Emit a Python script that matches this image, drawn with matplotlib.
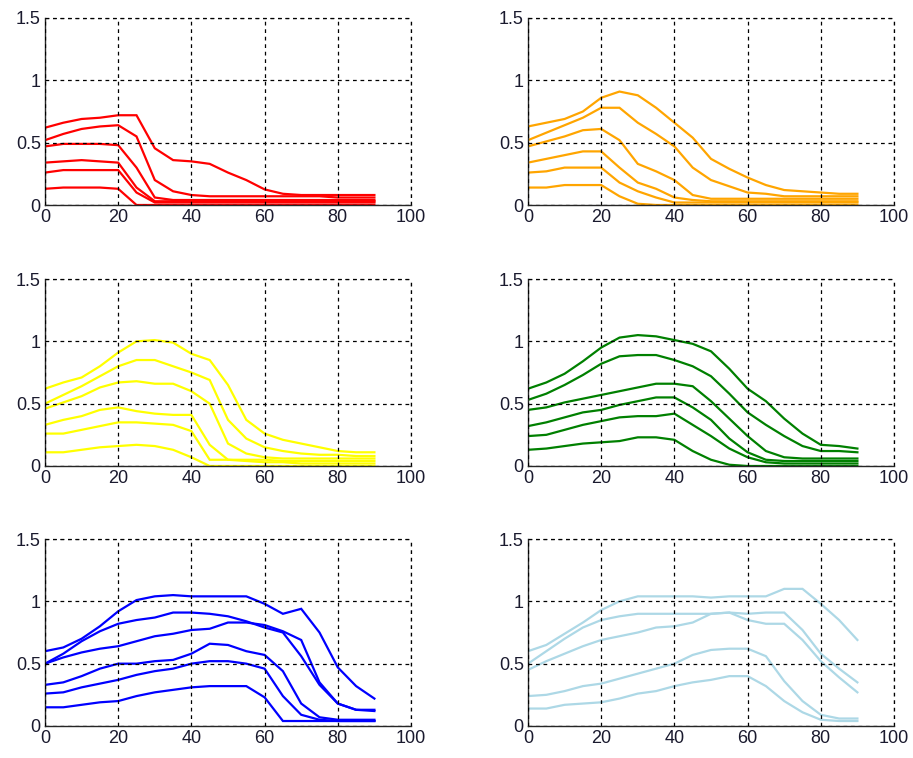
import matplotlib
matplotlib.use("Agg")
import matplotlib.pyplot as plt
import numpy as np

plt.rcParams['font.family'] = ['Liberation Sans', 'DejaVu Sans']

x = list(range(0, 95, 5))

red = [
    [0.62, 0.66, 0.69, 0.70, 0.72, 0.72, 0.455, 0.36, 0.35, 0.33, 0.26, 0.20, 0.125, 0.09, 0.08, 0.08, 0.08, 0.08, 0.08],
    [0.52, 0.57, 0.61, 0.63, 0.64, 0.55, 0.20, 0.11, 0.08, 0.07, 0.07, 0.07, 0.07, 0.07, 0.07, 0.07, 0.06, 0.06, 0.06],
    [0.47, 0.49, 0.49, 0.49, 0.48, 0.30, 0.06, 0.04, 0.04, 0.04, 0.04, 0.04, 0.04, 0.04, 0.04, 0.04, 0.04, 0.04, 0.04],
    [0.34, 0.35, 0.36, 0.35, 0.34, 0.14, 0.03, 0.03, 0.03, 0.03, 0.03, 0.03, 0.03, 0.03, 0.03, 0.03, 0.03, 0.03, 0.03],
    [0.26, 0.28, 0.28, 0.28, 0.28, 0.10, 0.02, 0.02, 0.02, 0.02, 0.02, 0.02, 0.02, 0.02, 0.02, 0.02, 0.02, 0.02, 0.02],
    [0.13, 0.14, 0.14, 0.14, 0.13, 0.00, 0.00, 0.00, 0.00, 0.00, 0.00, 0.00, 0.00, 0.00, 0.00, 0.00, 0.00, 0.00, 0.00],
]

orange = [
    [0.63, 0.66, 0.69, 0.75, 0.86, 0.91, 0.88, 0.78, 0.66, 0.54, 0.37, 0.29, 0.22, 0.16, 0.12, 0.11, 0.10, 0.09, 0.09],
    [0.52, 0.58, 0.64, 0.70, 0.78, 0.78, 0.66, 0.57, 0.47, 0.30, 0.20, 0.15, 0.10, 0.09, 0.07, 0.07, 0.07, 0.07, 0.07],
    [0.47, 0.51, 0.55, 0.60, 0.61, 0.52, 0.33, 0.27, 0.20, 0.08, 0.05, 0.05, 0.05, 0.05, 0.05, 0.05, 0.05, 0.05, 0.05],
    [0.34, 0.37, 0.40, 0.43, 0.43, 0.30, 0.18, 0.13, 0.06, 0.04, 0.03, 0.03, 0.03, 0.03, 0.03, 0.03, 0.03, 0.03, 0.03],
    [0.26, 0.27, 0.30, 0.30, 0.30, 0.18, 0.11, 0.06, 0.02, 0.02, 0.02, 0.02, 0.02, 0.02, 0.02, 0.02, 0.02, 0.02, 0.02],
    [0.14, 0.14, 0.16, 0.16, 0.16, 0.07, 0.01, 0.00, 0.00, 0.00, 0.00, 0.00, 0.00, 0.00, 0.00, 0.00, 0.00, 0.00, 0.00],
]

yellow = [
    [0.62, 0.67, 0.71, 0.80, 0.91, 1.00, 1.01, 0.99, 0.90, 0.85, 0.65, 0.37, 0.26, 0.21, 0.18, 0.15, 0.12, 0.11, 0.11],
    [0.50, 0.57, 0.64, 0.72, 0.80, 0.85, 0.85, 0.80, 0.75, 0.69, 0.37, 0.22, 0.15, 0.12, 0.10, 0.09, 0.09, 0.08, 0.08],
    [0.46, 0.51, 0.56, 0.63, 0.67, 0.68, 0.66, 0.66, 0.60, 0.50, 0.18, 0.10, 0.07, 0.06, 0.06, 0.06, 0.06, 0.06, 0.06],
    [0.33, 0.37, 0.40, 0.45, 0.47, 0.44, 0.42, 0.41, 0.41, 0.17, 0.05, 0.05, 0.05, 0.04, 0.04, 0.04, 0.04, 0.04, 0.04],
    [0.26, 0.26, 0.29, 0.32, 0.35, 0.35, 0.34, 0.33, 0.28, 0.05, 0.05, 0.04, 0.03, 0.03, 0.02, 0.02, 0.02, 0.02, 0.02],
    [0.11, 0.11, 0.13, 0.15, 0.16, 0.17, 0.16, 0.13, 0.07, 0.00, 0.00, 0.00, 0.00, 0.00, 0.00, 0.00, 0.00, 0.00, 0.00],
]

green = [
    [0.62, 0.67, 0.74, 0.84, 0.95, 1.03, 1.05, 1.04, 1.01, 0.98, 0.92, 0.78, 0.62, 0.52, 0.38, 0.26, 0.17, 0.16, 0.14],
    [0.53, 0.58, 0.65, 0.73, 0.82, 0.88, 0.89, 0.89, 0.85, 0.80, 0.72, 0.58, 0.43, 0.33, 0.24, 0.16, 0.12, 0.12, 0.11],
    [0.45, 0.47, 0.51, 0.54, 0.57, 0.60, 0.63, 0.66, 0.66, 0.64, 0.52, 0.38, 0.24, 0.12, 0.07, 0.06, 0.06, 0.06, 0.06],
    [0.32, 0.35, 0.39, 0.43, 0.45, 0.49, 0.52, 0.55, 0.55, 0.47, 0.37, 0.22, 0.11, 0.05, 0.04, 0.04, 0.04, 0.04, 0.04],
    [0.24, 0.25, 0.29, 0.33, 0.36, 0.39, 0.40, 0.40, 0.42, 0.33, 0.24, 0.14, 0.07, 0.03, 0.02, 0.02, 0.02, 0.02, 0.02],
    [0.13, 0.14, 0.16, 0.18, 0.19, 0.20, 0.23, 0.23, 0.21, 0.12, 0.05, 0.01, 0.00, 0.00, 0.00, 0.00, 0.00, 0.00, 0.00],
]

blue = [
    [0.60, 0.63, 0.70, 0.80, 0.92, 1.01, 1.04, 1.05, 1.04, 1.04, 1.04, 1.04, 0.98, 0.90, 0.94, 0.75, 0.47, 0.32, 0.22],
    [0.50, 0.58, 0.68, 0.76, 0.82, 0.85, 0.87, 0.91, 0.91, 0.90, 0.88, 0.84, 0.79, 0.75, 0.56, 0.33, 0.18, 0.13, 0.13],
    [0.50, 0.55, 0.59, 0.62, 0.64, 0.68, 0.72, 0.74, 0.77, 0.78, 0.83, 0.83, 0.81, 0.76, 0.69, 0.35, 0.18, 0.13, 0.12],
    [0.33, 0.35, 0.40, 0.46, 0.50, 0.50, 0.52, 0.53, 0.58, 0.66, 0.65, 0.60, 0.57, 0.44, 0.18, 0.07, 0.05, 0.05, 0.05],
    [0.26, 0.27, 0.31, 0.34, 0.37, 0.41, 0.44, 0.46, 0.50, 0.52, 0.52, 0.50, 0.46, 0.24, 0.09, 0.05, 0.04, 0.04, 0.04],
    [0.15, 0.15, 0.17, 0.19, 0.20, 0.24, 0.27, 0.29, 0.31, 0.32, 0.32, 0.32, 0.23, 0.04, 0.04, 0.04, 0.04, 0.04, 0.04],
]

lightblue = [
    [0.60, 0.65, 0.74, 0.83, 0.93, 1.00, 1.04, 1.04, 1.04, 1.04, 1.03, 1.04, 1.04, 1.04, 1.10, 1.10, 0.98, 0.85, 0.69],
    [0.50, 0.60, 0.70, 0.79, 0.85, 0.88, 0.90, 0.90, 0.90, 0.90, 0.90, 0.91, 0.90, 0.91, 0.91, 0.77, 0.58, 0.46, 0.35],
    [0.45, 0.52, 0.58, 0.64, 0.69, 0.72, 0.75, 0.79, 0.80, 0.83, 0.90, 0.91, 0.85, 0.82, 0.82, 0.69, 0.52, 0.39, 0.27],
    [0.24, 0.25, 0.28, 0.32, 0.34, 0.38, 0.42, 0.46, 0.50, 0.57, 0.61, 0.62, 0.62, 0.56, 0.36, 0.20, 0.09, 0.06, 0.06],
    [0.14, 0.14, 0.17, 0.18, 0.19, 0.22, 0.26, 0.28, 0.32, 0.35, 0.37, 0.40, 0.40, 0.32, 0.20, 0.11, 0.05, 0.04, 0.04],
]

panels = [red, orange, yellow, green, blue, lightblue]
colors = ['#FF0000', '#FFA500', '#FFFF00', '#008000', '#0000FF', '#ADD8E6']

xticks = [0, 20, 40, 60, 80, 100]
yticks = [0, 0.5, 1, 1.5]
yticklabels = ['0', '0.5', '1', '1.5']

fig = plt.figure(figsize=(9.13, 7.58), dpi=100)
W, H = 913, 758
lefts = [45, 528]
tops = [18, 279, 539]
aw, ah = 366, 187

for i, (series, col) in enumerate(zip(panels, colors)):
    r, c = divmod(i, 2)
    ax = fig.add_axes([lefts[c] / W, 1 - (tops[r] + ah) / H, aw / W, ah / H])
    for s in series:
        ax.plot(x, s, color=col, lw=1.6, solid_joinstyle='miter')
    ax.set_xlim(0, 100)
    ax.set_ylim(0, 1.5)
    ax.set_xticks(xticks)
    ax.set_yticks(yticks)
    ax.set_yticklabels(yticklabels)
    ax.grid(True, color='black', linestyle=(0, (3, 3)), linewidth=0.9)
    ax.set_axisbelow(False)
    for sp in ['top', 'right']:
        ax.spines[sp].set_visible(False)
    for sp in ['left', 'bottom']:
        ax.spines[sp].set_color('#262626')
        ax.spines[sp].set_linewidth(1.0)
    ax.tick_params(direction='in', length=0, labelsize=13, colors='#1a1a2e', pad=3)
    # dashed top/right border lines drawn via gridlines at limits
    ax.axhline(1.5, color='black', linestyle=(0, (3, 3)), linewidth=0.9, clip_on=False)
    ax.axvline(100, color='black', linestyle=(0, (3, 3)), linewidth=0.9, clip_on=False)

fig.savefig('out.png', dpi=100)
